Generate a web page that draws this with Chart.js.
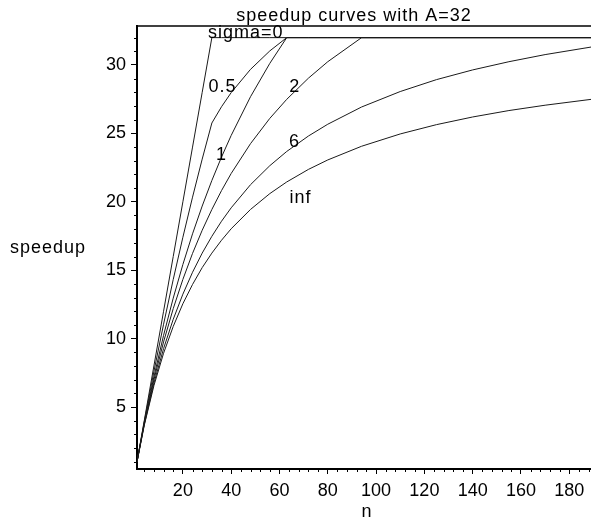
<!DOCTYPE html>
<html>
<head>
<meta charset="utf-8">
<script src="https://cdn.jsdelivr.net/npm/chart.js@4.4.0/dist/chart.umd.min.js"></script>
<style>
  html, body { margin: 0; padding: 0; background: #fff; }
  #wrap { width: 591px; height: 523px; position: relative; }
</style>
</head>
<body>
<div id="wrap"><canvas id="speedupChart"></canvas></div>
<script>
// values (n = processors, speedup)
const nValues  = [1, 4, 8, 12, 16, 20, 24, 28, 32, 36, 40, 48, 56, 63, 72, 80, 94, 110, 125, 140, 155, 170, 190];
const sigma0   = [1, 4, 8, 12, 16, 20, 24, 28, 32, 32, 32, 32, 32, 32, 32, 32, 32, 32, 32, 32, 32, 32, 32];
const sigma05  = [1, 3.91, 7.59, 11.05, 14.32, 17.41, 20.34, 23.12, 25.76, 26.95, 27.98, 29.68, 31.03, 32, 32, 32, 32, 32, 32, 32, 32, 32, 32];
const sigma1   = [1, 3.82, 7.21, 10.24, 12.96, 15.42, 17.66, 19.69, 21.56, 23.27, 24.85, 27.68, 30.12, 32, 32, 32, 32, 32, 32, 32, 32, 32, 32];
const sigma2   = [1, 3.77, 6.98, 9.76, 12.19, 14.33, 16.23, 17.92, 19.44, 20.82, 22.07, 24.25, 26.10, 27.49, 29.04, 30.24, 32, 32, 32, 32, 32, 32, 32];
const sigma6   = [1, 3.70, 6.74, 9.27, 11.41, 13.25, 14.85, 16.25, 17.48, 18.58, 19.56, 21.25, 22.64, 23.68, 24.81, 25.67, 26.93, 28.06, 28.93, 29.64, 30.24, 30.76, 31.34];
const sigmaInf = [1, 3.66, 6.56, 8.93, 10.89, 12.55, 13.96, 15.19, 16.25, 17.19, 18.03, 19.44, 20.60, 21.45, 22.37, 23.06, 24.06, 24.96, 25.64, 26.20, 26.67, 27.06, 27.51];

const seriesNames = ['sigma=0', '0.5', '1', '2', '6', 'inf'];
const seriesData = [sigma0, sigma05, sigma1, sigma2, sigma6, sigmaInf];

// curve labels, anchored in data units (n, speedup) at the text baseline
const labelN       = [46, 36.4, 36, 66.3, 66.2, 68.7];
const labelSpeedup = [32.0, 28.0, 23.06, 28.0, 24.0, 19.9];

const xTicks = [20, 40, 60, 80, 100, 120, 140, 160, 180];
const yTicks = [5, 10, 15, 20, 25, 30];

const FONT = '"Liberation Sans", Arial, Helvetica, sans-serif';

const textPlugin = {
    id: 'mapleText',
    afterDraw(chart) {
        const ctx = chart.ctx;
        const xs = chart.scales.x, ys = chart.scales.y;
        const area = chart.chartArea;
        ctx.save();
        ctx.strokeStyle = '#000';

        // top frame line
        ctx.lineWidth = 1.5;
        ctx.beginPath();
        ctx.moveTo(area.left, area.top);
        ctx.lineTo(area.right, area.top);
        ctx.stroke();

        // minor ticks
        ctx.lineWidth = 1;
        ctx.beginPath();
        for (let v = 4; v <= xs.max; v += 4) {
            if (v % 20 === 0) continue;
            const px = Math.round(xs.getPixelForValue(v)) + 0.5;
            ctx.moveTo(px, area.bottom);
            ctx.lineTo(px, area.bottom + 3);
        }
        for (let v = 1; v <= ys.max; v += 1) {
            if (v % 5 === 0) continue;
            const py = Math.round(ys.getPixelForValue(v)) + 0.5;
            ctx.moveTo(area.left, py);
            ctx.lineTo(area.left - 3, py);
        }
        ctx.stroke();

        ctx.fillStyle = '#000';
        ctx.font = '18px ' + FONT;
        if ('letterSpacing' in ctx) ctx.letterSpacing = '1px';
        ctx.textBaseline = 'alphabetic';

        ctx.textAlign = 'center';
        ctx.fillText('speedup curves with A=32', 354, 21);
        ctx.fillText('n', 367, 517);

        ctx.textAlign = 'left';
        ctx.fillText('speedup', 10, 253);

        ctx.textAlign = 'center';
        seriesNames.forEach((name, i) => {
            ctx.fillText(name, xs.getPixelForValue(labelN[i]), ys.getPixelForValue(labelSpeedup[i]));
        });
        ctx.restore();
    }
};

function initChart() {
    const ctx = document.getElementById('speedupChart');
    new Chart(ctx, {
        type: 'line',
        data: {
            datasets: seriesData.map((arr, i) => ({
                label: seriesNames[i],
                data: nValues.map((n, j) => ({ x: n, y: arr[j] })),
                borderColor: '#1a1a1a',
                borderWidth: 1,
                pointRadius: 0,
                tension: 0,
                fill: false
            }))
        },
        options: {
            responsive: true,
            maintainAspectRatio: false,
            animation: false,
            layout: { padding: { left: 0, right: 0, top: 26, bottom: 0 } },
            plugins: {
                legend: { display: false },
                tooltip: { enabled: false },
                title: { display: false }
            },
            scales: {
                x: {
                    type: 'linear',
                    min: 1,
                    max: 189,
                    afterBuildTicks: s => { s.ticks = xTicks.map(v => ({ value: v })); },
                    afterFit: s => { s.height = 54; },
                    grid: { drawOnChartArea: false, color: '#000', tickLength: 5, tickWidth: 1 },
                    border: { color: '#000', width: 2 },
                    ticks: {
                        color: '#000',
                        padding: 6,
                        maxRotation: 0,
                        font: { family: FONT, size: 18 }
                    }
                },
                y: {
                    type: 'linear',
                    min: 0.47,
                    max: 32.85,
                    afterBuildTicks: s => { s.ticks = yTicks.map(v => ({ value: v })); },
                    afterFit: s => { s.width = 137; },
                    grid: { drawOnChartArea: false, color: '#000', tickLength: 6, tickWidth: 1 },
                    border: { color: '#000', width: 2 },
                    ticks: {
                        color: '#000',
                        padding: 5,
                        font: { family: FONT, size: 18 }
                    }
                }
            }
        },
        plugins: [textPlugin]
    });
}

initChart();
</script>
</body>
</html>
